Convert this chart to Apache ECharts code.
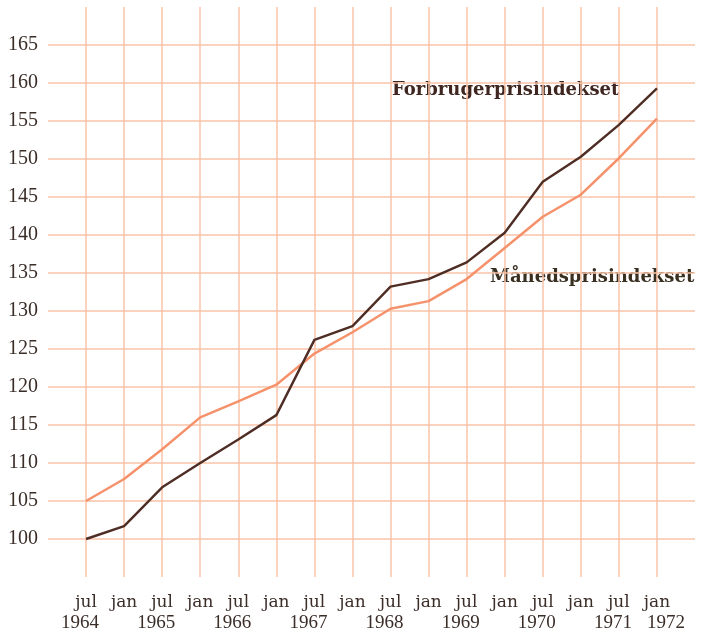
<!DOCTYPE html>
<html>
<head>
<meta charset="utf-8">
<script src="https://cdn.jsdelivr.net/npm/echarts@6/dist/echarts.min.js"></script>
<style>
  html, body { margin: 0; padding: 0; background: #ffffff; }
  #chart { width: 714px; height: 635px; }
</style>
</head>
<body>
<div id="chart"></div>
<script>
// Half-yearly observation points, July 1964 – January 1972
const months = ['jul', 'jan', 'jul', 'jan', 'jul', 'jan', 'jul', 'jan',
                'jul', 'jan', 'jul', 'jan', 'jul', 'jan', 'jul', 'jan'];
const years  = ['1964', '', '1965', '', '1966', '', '1967', '',
                '1968', '', '1969', '', '1970', '', '1971', '1972'];

// Consumer price index (Forbrugerprisindekset), jul 1964 = 100
const forbrugerpris = [100.0, 101.7, 106.8, 110.0, 113.1, 116.3, 126.2, 128.0,
                       133.2, 134.2, 136.4, 140.3, 147.0, 150.3, 154.5, 159.3];
// Monthly price index (Månedsprisindekset)
const maanedspris   = [105.0, 107.9, 111.8, 116.0, 118.1, 120.3, 124.4, 127.2,
                       130.3, 131.3, 134.2, 138.3, 142.4, 145.3, 150.1, 155.3];

// Value-axis ticks shown on the left
const yTicks = [100, 105, 110, 115, 120, 125, 130, 135, 140, 145, 150, 155, 160, 165];

const gridColor = '#f8c3a7';
const textColor = '#3b2e29';
const serif = '"Liberation Serif", "DejaVu Serif", serif';

const chart = echarts.init(document.getElementById('chart'));

chart.setOption({
  backgroundColor: '#ffffff',
  animation: false,
  grid: { left: 48, right: 19, top: 7, bottom: 58 },
  xAxis: {
    type: 'value',
    min: -1,
    max: months.length,
    interval: 1,
    axisLine: { show: false },
    axisTick: { show: false },
    splitLine: {
      show: true,
      showMinLine: false,
      showMaxLine: false,
      lineStyle: { color: gridColor, width: 1.5 }
    },
    axisLabel: {
      showMinLabel: false,
      showMaxLabel: false,
      margin: 16,
      formatter: function (v) {
        const i = Math.round(v);
        if (i < 0 || i >= months.length) return '';
        const yr = years[i];
        const yrStyle = i === months.length - 1 ? 'yrEnd' : 'yr';
        return '{m|' + months[i] + '}' + (yr ? '\n{' + yrStyle + '|' + yr + '}' : '');
      },
      rich: {
        m:     { fontFamily: '"DejaVu Serif", serif', fontSize: 17, color: textColor, lineHeight: 20 },
        yr:    { fontFamily: serif, fontSize: 19, color: textColor, lineHeight: 20, padding: [0, 12, 0, 0] },
        yrEnd: { fontFamily: serif, fontSize: 19, color: textColor, lineHeight: 20, padding: [0, 0, 0, 18] }
      }
    }
  },
  yAxis: {
    type: 'value',
    min: 95,
    max: 170,
    interval: 5,
    axisLine: { show: false },
    axisTick: { show: false },
    splitLine: {
      show: true,
      showMinLine: false,
      showMaxLine: false,
      lineStyle: { color: gridColor, width: 1.5 }
    },
    axisLabel: {
      showMinLabel: false,
      showMaxLabel: false,
      margin: 10,
      fontFamily: serif,
      fontSize: 20,
      color: textColor,
      formatter: function (v) { return yTicks.indexOf(v) >= 0 ? String(v) : ''; }
    }
  },
  series: [
    {
      name: 'Månedsprisindekset',
      type: 'line',
      data: maanedspris.map((v, i) => [i, v]),
      symbol: 'none',
      lineStyle: { color: '#f5926c', width: 2.5 },
      z: 3
    },
    {
      name: 'Forbrugerprisindekset',
      type: 'line',
      data: forbrugerpris.map((v, i) => [i, v]),
      symbol: 'none',
      lineStyle: { color: '#4e2d25', width: 2.4 },
      z: 4
    }
  ],
  graphic: [
    {
      type: 'text',
      left: 392,
      top: 81,
      style: {
        text: 'Forbrugerprisindekset',
        font: 'bold 18px "DejaVu Serif", serif',
        fill: '#3f2620'
      }
    },
    {
      type: 'text',
      left: 490,
      top: 268,
      style: {
        text: 'Månedsprisindekset',
        font: 'bold 18px "DejaVu Serif", serif',
        fill: '#3a3022'
      }
    }
  ]
});
</script>
</body>
</html>
